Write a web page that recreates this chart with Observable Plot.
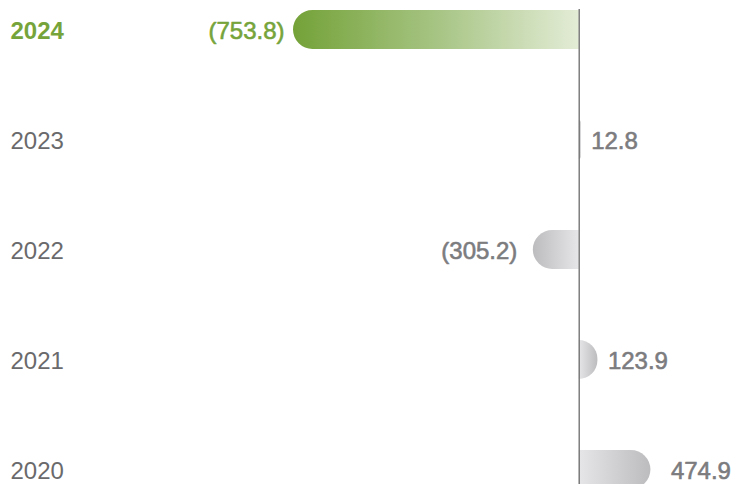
<!DOCTYPE html>
<html><head><meta charset="utf-8">
<script src="https://cdn.jsdelivr.net/npm/d3@7"></script>
<script src="https://cdn.jsdelivr.net/npm/@observablehq/plot@0.6"></script>
<style>body{margin:0;background:#fff;} svg{display:block}</style>
</head><body>
<svg width="0" height="0" style="position:absolute">
  <defs>
    <linearGradient id="gGreen" x1="0" x2="1" y1="0" y2="0">
      <stop offset="0" stop-color="#74a238"/>
      <stop offset="0.5" stop-color="#a6c483"/>
      <stop offset="1" stop-color="#e3ecd6"/>
    </linearGradient>
    <linearGradient id="gGrayNeg" x1="0" x2="1" y1="0" y2="0">
      <stop offset="0" stop-color="#bcbcbf"/>
      <stop offset="1" stop-color="#e6e6e8"/>
    </linearGradient>
    <linearGradient id="gGrayPos" x1="0" x2="1" y1="0" y2="0">
      <stop offset="0" stop-color="#e6e6e8"/>
      <stop offset="1" stop-color="#bcbcbf"/>
    </linearGradient>
  </defs>
</svg>
<div id="chart"></div>
<script>
const years = ["2024", "2023", "2022", "2021", "2020"];
const values = [-753.8, 12.8, -305.2, 123.9, 474.9];
const highlight = "2024";

const data = years.map((year, i) => ({year, value: values[i]}));
const fmt = v => v < 0 ? `(${Math.abs(v).toFixed(1)})` : v.toFixed(1);
const green = "#76a43b", gray = "#7c7c7f", yearGray = "#6a6a6c";
const hi = data.filter(d => d.year === highlight);
const rest = data.filter(d => d.year !== highlight);
const restNeg = rest.filter(d => d.value < 0);
const restPos = rest.filter(d => d.value >= 0);
const big = restPos.filter(d => d.value >= 400);
const small = restPos.filter(d => d.value < 400);

const chart = Plot.plot({
  width: 736, height: 484,
  marginTop: 9, marginBottom: 0, marginLeft: 0, marginRight: 0,
  x: {type: "linear", domain: [d3.min(values), -400, 0, d3.max(values)], range: [293, 518.6, 578.7, 650.4], axis: null},
  y: {domain: years, range: [9.25, 489.5], paddingInner: 0.6464, paddingOuter: 0, axis: null},
  style: {fontFamily: "'Liberation Sans', Arial, Helvetica, sans-serif", background: "white"},
  marks: [
    Plot.barX(hi, {x1: "value", x2: 0, y: "year", fill: "url(#gGreen)", rx1: 19.5}),
    Plot.barX(restNeg, {x1: "value", x2: 0, y: "year", fill: "url(#gGrayNeg)", rx1: 19.5}),
    Plot.barX(restPos, {x1: 0, x2: "value", y: "year", fill: "url(#gGrayPos)", rx2: 19.5}),
    Plot.ruleX([0], {stroke: "#6b6b6b", strokeWidth: 1.3}),
    Plot.text(hi, {y: "year", text: "year", frameAnchor: "left", textAnchor: "start", dx: 10, dy: 1, fontSize: 24, fontWeight: "bold", fill: green}),
    Plot.text(rest, {y: "year", text: "year", frameAnchor: "left", textAnchor: "start", dx: 10, dy: 1, fontSize: 24, fill: yearGray}),
    Plot.text(hi, {x: "value", y: "year", text: d => fmt(d.value), textAnchor: "end", dx: -9, dy: 1, fontSize: 24, fill: green, stroke: green, strokeWidth: 0.6}),
    Plot.text(restNeg, {x: "value", y: "year", text: d => fmt(d.value), textAnchor: "end", dx: -16, dy: 1, fontSize: 24, fill: gray, stroke: gray, strokeWidth: 0.6}),
    Plot.text(small, {x: "value", y: "year", text: d => fmt(d.value), textAnchor: "start", dx: 10, dy: 1, fontSize: 24, fill: gray, stroke: gray, strokeWidth: 0.6}),
    Plot.text(big, {x: "value", y: "year", text: d => fmt(d.value), textAnchor: "start", dx: 20, dy: 1, fontSize: 24, fill: gray, stroke: gray, strokeWidth: 0.6})
  ]
});
document.getElementById("chart").appendChild(chart);
</script>
</body></html>
